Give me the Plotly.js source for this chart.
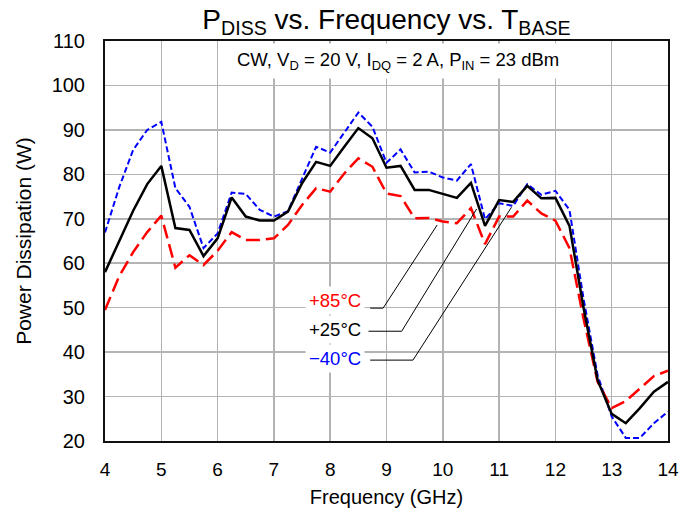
<!DOCTYPE html>
<html>
<head>
<meta charset="utf-8">
<script src="https://cdn.plot.ly/plotly-3.0.1.min.js"></script>
<style>html,body{margin:0;padding:0;background:#fff;}#chart{width:681px;height:508px;}</style>
</head>
<body>
<div id="chart"></div>
<script>
// Frequency (GHz)
const freq = [4, 4.25, 4.5, 4.75, 5, 5.25, 5.5, 5.75, 6, 6.25, 6.5, 6.75, 7, 7.25, 7.5, 7.75, 8, 8.25, 8.5, 8.75, 9, 9.25, 9.5, 9.75, 10, 10.25, 10.5, 10.75, 11, 11.25, 11.5, 11.75, 12, 12.25, 12.5, 12.75, 13, 13.25, 13.5, 13.75, 14];
// Power dissipation (W) at +85 °C
const pd85 = [49.5, 57, 62.5, 67, 70.7, 59, 61.8, 59.6, 62.8, 67, 65.2, 65.2, 65.6, 68.6, 73.1, 76.9, 76.1, 80.2, 83.6, 81.7, 75.7, 75.1, 70.1, 70.2, 69.4, 69, 72.4, 64.3, 70.5, 70.5, 74.1, 71.2, 69.6, 63.4, 47.5, 33.3, 27.4, 29, 31.8, 34.6, 35.8];
// Power dissipation (W) at +25 °C
const pd25 = [58, 65, 71.8, 77.8, 81.9, 67.9, 67.5, 61.6, 65.6, 74.8, 70.5, 69.6, 69.6, 71.6, 78, 82.8, 81.9, 86.2, 90.4, 88.1, 81.5, 81.9, 76.5, 76.5, 75.6, 74.7, 78.1, 68.4, 74.2, 73.8, 77.4, 74.6, 74.7, 68.4, 50, 33.7, 26.1, 24.0, 27.4, 31.1, 33.3];
// Power dissipation (W) at -40 °C
const pdm40 = [66.9, 77, 85.5, 90, 91.8, 76.9, 72.7, 63.4, 66.7, 75.9, 75.6, 72, 70.5, 71.7, 79, 86.2, 84.9, 89.3, 93.9, 90.7, 82.6, 85.6, 80.4, 80.6, 79.3, 78.6, 82.3, 69.9, 73.5, 72.9, 77.8, 75.4, 76.3, 72, 52, 34.8, 25.5, 20.7, 20.7, 24, 26.6];

const seriesNames = ['+85°C', '+25°C', '\u221240°C'];
const xTicks = [4, 5, 6, 7, 8, 9, 10, 11, 12, 13, 14];
const yTicks = [20, 30, 40, 50, 60, 70, 80, 90, 100, 110];

const FONT = 'Liberation Sans, Arial, Helvetica, sans-serif';

const traces = [
  {x: freq, y: pdm40, name: seriesNames[2], mode: 'lines', line: {color: '#0000ff', width: 2, dash: '6px,3px'}},
  {x: freq, y: pd85, name: seriesNames[0], mode: 'lines', line: {color: '#ff0000', width: 2.5, dash: '14px,6px'}},
  {x: freq, y: pd25, name: seriesNames[1], mode: 'lines', line: {color: '#000000', width: 2.5}}
];

const leader = (pts) => ({
  type: 'path', xref: 'x', yref: 'y',
  path: 'M ' + pts.map(p => p[0] + ',' + p[1]).join(' L '),
  line: {color: '#000', width: 1}
});

const layout = {
  width: 681, height: 508,
  margin: {l: 105, r: 13, t: 41, b: 67},
  paper_bgcolor: '#fff', plot_bgcolor: '#fff',
  showlegend: false,
  font: {family: FONT, color: '#000'},
  title: {
    text: 'P<sub>DISS</sub> vs. Frequency vs. T<sub>BASE</sub>',
    font: {family: FONT, size: 28, color: '#000'},
    x: 0.5, xref: 'paper', xanchor: 'center',
    y: 1 - 19 / 508, yref: 'container', yanchor: 'middle'
  },
  xaxis: {
    range: [4, 14], tickmode: 'array', tickvals: xTicks,
    showgrid: true, gridcolor: '#b3b3b3', gridwidth: 1.5,
    showline: true, linecolor: '#111', linewidth: 2, mirror: true,
    ticks: '', zeroline: false, ticklabelstandoff: 10,
    tickfont: {family: FONT, size: 19, color: '#000'},
    title: {text: 'Frequency (GHz)', font: {family: FONT, size: 20, color: '#000'}}
  },
  yaxis: {
    range: [20, 110], tickmode: 'array', tickvals: yTicks,
    showgrid: true, gridcolor: '#b3b3b3', gridwidth: 1.5,
    showline: true, linecolor: '#111', linewidth: 2, mirror: true,
    ticks: '', zeroline: false, ticklabelstandoff: 14,
    tickfont: {family: FONT, size: 20, color: '#000'},
    automargin: true,
    title: {text: 'Power Dissipation (W)', standoff: 14, font: {family: FONT, size: 21, color: '#000'}}
  },
  annotations: [
    {text: 'CW, V<sub>D</sub> = 20 V, I<sub>DQ</sub> = 2 A, P<sub>IN</sub> = 23 dBm',
     xref: 'x', yref: 'y', x: 9.2, y: 105.5, xanchor: 'center', yanchor: 'middle',
     showarrow: false, bgcolor: '#fff', borderpad: 5,
     font: {family: FONT, size: 18.5, color: '#000'}},
    {text: seriesNames[0], xref: 'x', yref: 'y', x: 8.62, y: 51.7, xanchor: 'right', yanchor: 'middle',
     showarrow: false, bgcolor: '#fff', borderpad: 3, font: {family: FONT, size: 18.5, color: '#ff0000'}},
    {text: seriesNames[1], xref: 'x', yref: 'y', x: 8.62, y: 45.0, xanchor: 'right', yanchor: 'middle',
     showarrow: false, bgcolor: '#fff', borderpad: 3, font: {family: FONT, size: 18.5, color: '#000'}},
    {text: seriesNames[2], xref: 'x', yref: 'y', x: 8.62, y: 38.6, xanchor: 'right', yanchor: 'middle',
     showarrow: false, bgcolor: '#fff', borderpad: 3, font: {family: FONT, size: 18.5, color: '#0000ff'}}
  ],
  shapes: [
    leader([[8.71, 49.9], [8.94, 49.9], [9.9, 68.6]]),
    leader([[8.68, 44.7], [9.27, 44.7], [10.6, 72.2]]),
    leader([[8.71, 38.2], [9.47, 38.2], [11.22, 72.6]])
  ]
};

Plotly.newPlot('chart', traces, layout, {displayModeBar: false, staticPlot: true});
</script>
</body>
</html>
